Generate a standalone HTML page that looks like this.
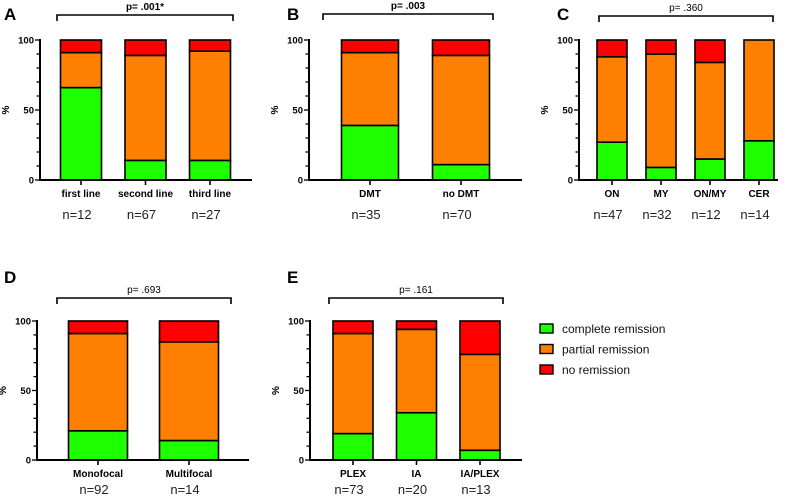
<!DOCTYPE html>
<html><head><meta charset="utf-8"><style>
html,body{margin:0;padding:0;background:#fff;}
svg{display:block;font-family:"Liberation Sans",Arial,sans-serif;}
</style></head><body>
<svg id="fig" width="792" height="496" viewBox="0 0 792 496"></svg>
<script>
// Data arrays (percent: complete, partial; red fills to 100)
const catsA=["first line","second line","third line"];
const completeA=[66,14,14];
const partialA=[25,75,78];
const nA=["n=12","n=67","n=27"];
const catsB=["DMT","no DMT"];
const completeB=[39,11];
const partialB=[52,78];
const nB=["n=35","n=70"];
const catsC=["ON","MY","ON/MY","CER"];
const completeC=[27,9,15,28];
const partialC=[61,81,69,72];
const nC=["n=47","n=32","n=12","n=14"];
const catsD=["Monofocal","Multifocal"];
const completeD=[21,14];
const partialD=[70,71];
const nD=["n=92","n=14"];
const catsE=["PLEX","IA","IA/PLEX"];
const completeE=[19,34,7];
const partialE=[72,60,69];
const nE=["n=73","n=20","n=13"];
const pA="p= .001*",pB="p= .003",pC="p= .360",pD="p= .693",pE="p= .161";
const yTicks=[0,50,100];

const NS="http://www.w3.org/2000/svg";
const svg=document.getElementById('fig');
function mk(tag,attrs,parent,text){const e=document.createElementNS(NS,tag);for(const k in attrs)e.setAttribute(k,attrs[k]);if(text!==undefined)e.textContent=text;(parent||svg).appendChild(e);return e;}

function panel(o){
  const g=mk('g',{});
  
  
  const y=v=>o.y0-(o.y0-o.y100)*v/100;
  const x=i=>o.c0+o.step*i;
  const lt=mk('text',{x:o.lx,y:o.ly,'font-size':17,'font-weight':'bold'},g,o.letter);
  
  
  const br=mk('path',{d:`M${o.bx1},${o.by+6}V${o.by}H${o.bx2}V${o.by+6}`,fill:'none',stroke:'#000','stroke-width':1.6},g);
  
  
  const pt=mk('text',{x:(o.bx1+o.bx2)/2,y:o.by-5,'font-size':10,'text-anchor':'middle','font-weight':o.pbold?'bold':'normal'},g,o.p);
  
  
  o.cats.forEach((c,i)=>{
    const g1=o.comp[i],g2=g1+o.part[i];
    const cx=x(i),w=o.w;
    const segs=[[0,g1,'#1eff00','complete'],[g1,g2,'#ff8000','partial'],[g2,100,'#ff0000','none']];
    segs.forEach(s=>{ if(s[1]-s[0]<=0) return;
      const r=mk('rect',{x:cx-w/2,y:y(s[1]),width:w,height:y(s[0])-y(s[1]),fill:s[2],stroke:'#000','stroke-width':1.6},g);
      
      
    });
    mk('line',{x1:cx,x2:cx,y1:o.y0,y2:o.y0+5,stroke:'#000','stroke-width':1.6},g);
    const cl=mk('text',{x:cx,y:o.y0+17,'font-size':10,'font-weight':'bold','text-anchor':'middle'},g,c);
    
    
    const nl=mk('text',{x:cx-4,y:o.y0+o.nOff,'font-size':13,'text-anchor':'middle',fill:'#222'},g,o.n[i]);
    
    
  });
  const ax=mk('path',{d:`M${o.ax},${o.y100-1}V${o.y0}H${o.axEnd}`,fill:'none',stroke:'#000','stroke-width':2},g);
  
  
  for(let v=0;v<=100;v+=10){
    const maj=yTicks.includes(v);
    mk('line',{x1:o.ax-(maj?5:3.5),x2:o.ax,y1:y(v),y2:y(v),stroke:'#000','stroke-width':1.3},g);
  }
  yTicks.forEach(v=>{
    const t=mk('text',{x:o.ax-6,y:y(v)+3.5,'font-size':9.5,'font-weight':'bold','text-anchor':'end'},g,v);
    
    
  });
  const yt=mk('text',{x:0,y:0,'font-size':10,'font-weight':'bold','text-anchor':'middle',transform:`translate(${o.ax-31},${(o.y0+o.y100)/2}) rotate(-90)`},g,'%');
  
  
}

panel({letter:'A',lx:4,ly:20,cats:catsA,comp:completeA,part:partialA,n:nA,p:pA,pbold:true,ax:40,axEnd:252,y0:180,y100:40,c0:81,step:64.5,w:41,bx1:57,bx2:233,by:15,nOff:39});
panel({letter:'B',lx:287,ly:20,cats:catsB,comp:completeB,part:partialB,n:nB,p:pB,pbold:true,ax:309,axEnd:522,y0:180,y100:40,c0:370,step:91,w:57,bx1:323,bx2:493,by:14,nOff:39});
panel({letter:'C',lx:557,ly:20,cats:catsC,comp:completeC,part:partialC,n:nC,p:pC,pbold:false,ax:579,axEnd:778,y0:180,y100:40,c0:612,step:49,w:30,bx1:599,bx2:773,by:16,nOff:39});
panel({letter:'D',lx:4,ly:283,cats:catsD,comp:completeD,part:partialD,n:nD,p:pD,pbold:false,ax:37,axEnd:249,y0:460,y100:321,c0:98,step:91,w:59,bx1:57,bx2:231,by:298,nOff:34});
panel({letter:'E',lx:287,ly:283,cats:catsE,comp:completeE,part:partialE,n:nE,p:pE,pbold:false,ax:310,axEnd:522,y0:460,y100:321,c0:353,step:63.5,w:40,bx1:329,bx2:503,by:298,nOff:34});

const legLabels=["complete remission","partial remission","no remission"];
const legColors=['#1eff00','#ff8000','#ff0000'];
const lg=mk('g',{});


legLabels.forEach((l,i)=>{
  const r=mk('rect',{x:540,y:324+i*20.5,width:13,height:9,fill:legColors[i],stroke:'#000','stroke-width':1.4},lg);
  
  
  const t=mk('text',{x:562,y:333+i*20.5,'font-size':12,fill:'#111'},lg,l);
  
  
});
</script>
</body></html>
